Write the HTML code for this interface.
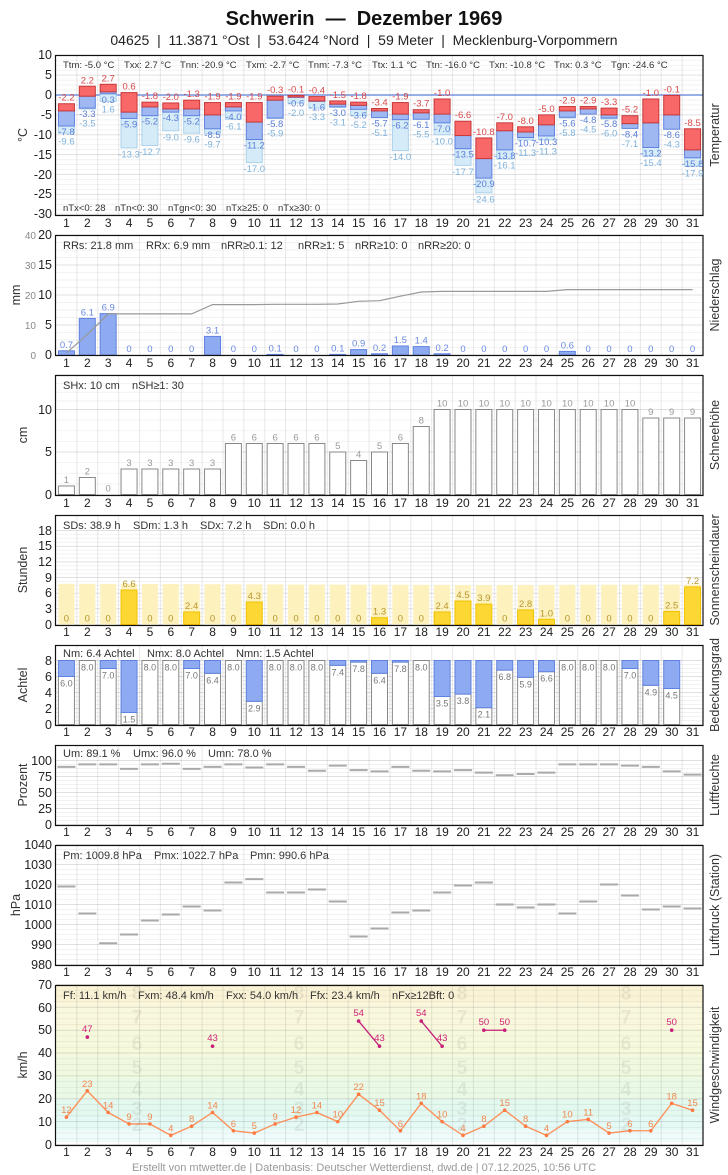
<!DOCTYPE html>
<html><head><meta charset="utf-8"><style>
body{margin:0;background:#fff;}
#w{position:relative;width:728px;height:1175px;font-family:"Liberation Sans",sans-serif;overflow:hidden}
svg{position:absolute;left:0;top:0}
.dr{position:absolute;left:56px;width:647px;display:flex;font-size:12px;color:#222;}
.dr span{flex:1;text-align:center}
text{font-family:"Liberation Sans",sans-serif}
.st{font-size:11px;fill:#333}
.ts{font-size:9.5px;fill:#333}
.ax{font-size:12.5px;fill:#222;text-anchor:end}
.ax2{font-size:10px;fill:#888;text-anchor:end}
.tl{font-size:12.5px;fill:#333;text-anchor:middle}
.lb text{font-size:9.5px;text-anchor:middle}
.pre{white-space:pre}
</style></head><body><div id="w">
<svg id="c" width="728" height="1175" xmlns="http://www.w3.org/2000/svg">
<g id="bg"></g>
<g id="fg"></g>
<text class="pre" x="364" y="25" text-anchor="middle" style="font-size:20px;font-weight:bold;fill:#111">Schwerin  —  Dezember 1969</text>
<text class="pre" x="364" y="45" text-anchor="middle" style="font-size:14px;fill:#222">04625  |  11.3871 °Ost  |  53.6424 °Nord  |  59 Meter  |  Mecklenburg-Vorpommern</text>

<g class="ax">
<text x="52" y="59">10</text><text x="52" y="79">5</text><text x="52" y="99">0</text><text x="52" y="119">-5</text><text x="52" y="139">-10</text><text x="52" y="159">-15</text><text x="52" y="179">-20</text><text x="52" y="198">-25</text><text x="52" y="218">-30</text>
<text x="52" y="239">20</text><text x="52" y="269">15</text><text x="52" y="299">10</text><text x="52" y="329">5</text><text x="52" y="359">0</text>
<text x="52" y="414">10</text><text x="52" y="456">5</text><text x="52" y="499">0</text>
<text x="52" y="535">18</text><text x="52" y="550">15</text><text x="52" y="566">12</text><text x="52" y="582">9</text><text x="52" y="597">6</text><text x="52" y="613">3</text><text x="52" y="629">0</text>
<text x="52" y="665">8</text><text x="52" y="681">6</text><text x="52" y="697">4</text><text x="52" y="713">2</text><text x="52" y="729">0</text>
<text x="52" y="765">100</text><text x="52" y="781">75</text><text x="52" y="797">50</text><text x="52" y="813">25</text><text x="52" y="829">0</text>
<text x="52" y="849">1040</text><text x="52" y="869">1030</text><text x="52" y="889">1020</text><text x="52" y="909">1010</text><text x="52" y="929">1000</text><text x="52" y="949">990</text><text x="52" y="969">980</text>
<text x="52" y="989">70</text><text x="52" y="1012">60</text><text x="52" y="1034">50</text><text x="52" y="1057">40</text><text x="52" y="1080">30</text><text x="52" y="1103">20</text><text x="52" y="1126">10</text><text x="52" y="1149">0</text>
</g>
<g class="ax2"><text x="36" y="239">40</text><text x="36" y="269">30</text><text x="36" y="299">20</text><text x="36" y="329">10</text><text x="36" y="359">0</text></g>

<g class="tl">
<text transform="translate(27,135) rotate(-90)">°C</text>
<text transform="translate(20,295) rotate(-90)">mm</text>
<text transform="translate(27,435) rotate(-90)">cm</text>
<text transform="translate(27,570) rotate(-90)">Stunden</text>
<text transform="translate(27,685) rotate(-90)">Achtel</text>
<text transform="translate(27,785) rotate(-90)">Prozent</text>
<text transform="translate(20,905) rotate(-90)">hPa</text>
<text transform="translate(27,1065) rotate(-90)">km/h</text>
<text transform="translate(719,135) rotate(-90)">Temperatur</text>
<text transform="translate(719,295) rotate(-90)">Niederschlag</text>
<text transform="translate(719,435) rotate(-90)">Schneehöhe</text>
<text transform="translate(719,570) rotate(-90)">Sonnenscheindauer</text>
<text transform="translate(719,685) rotate(-90)">Bedeckungsgrad</text>
<text transform="translate(719,785) rotate(-90)">Luftfeuchte</text>
<text transform="translate(719,905) rotate(-90)">Luftdruck (Station)</text>
<text transform="translate(719,1065) rotate(-90)">Windgeschwindigkeit</text>
</g>

<g id="bft" style="font-size:19px;font-weight:bold;fill:#000;opacity:0.06" text-anchor="middle"></g>

<g class="ts">
<text x="63" y="68">Ttm: -5.0 °C</text><text x="124" y="68">Txx: 2.7 °C</text><text x="180" y="68">Tnn: -20.9 °C</text><text x="246" y="68">Txm: -2.7 °C</text><text x="308" y="68">Tnm: -7.3 °C</text><text x="372" y="68">Ttx: 1.1 °C</text><text x="426" y="68">Ttn: -16.0 °C</text><text x="489" y="68">Txn: -10.8 °C</text><text x="554" y="68">Tnx: 0.3 °C</text><text x="611" y="68">Tgn: -24.6 °C</text>
<text x="63" y="211">nTx&lt;0: 28</text><text x="115" y="211">nTn&lt;0: 30</text><text x="168" y="211">nTgn&lt;0: 30</text><text x="226" y="211">nTx≥25: 0</text><text x="278" y="211">nTx≥30: 0</text>
</g>
<g class="st">
<text x="63" y="249">RRs: 21.8 mm</text><text x="146" y="249">RRx: 6.9 mm</text><text x="221" y="249">nRR≥0.1: 12</text><text x="298" y="249">nRR≥1: 5</text><text x="355" y="249">nRR≥10: 0</text><text x="418" y="249">nRR≥20: 0</text>
<text x="63" y="389">SHx: 10 cm</text><text x="132" y="389">nSH≥1: 30</text>
<text x="63" y="529">SDs: 38.9 h</text><text x="133" y="529">SDm: 1.3 h</text><text x="200" y="529">SDx: 7.2 h</text><text x="263" y="529">SDn: 0.0 h</text>
<text x="63" y="657">Nm: 6.4 Achtel</text><text x="147" y="657">Nmx: 8.0 Achtel</text><text x="236" y="657">Nmn: 1.5 Achtel</text>
<text x="63" y="757">Um: 89.1 %</text><text x="133" y="757">Umx: 96.0 %</text><text x="208" y="757">Umn: 78.0 %</text>
<text x="63" y="859">Pm: 1009.8 hPa</text><text x="154" y="859">Pmx: 1022.7 hPa</text><text x="250" y="859">Pmn: 990.6 hPa</text>
<text x="63" y="999">Ff: 11.1 km/h</text><text x="138" y="999">Fxm: 48.4 km/h</text><text x="226" y="999">Fxx: 54.0 km/h</text><text x="310" y="999">Ffx: 23.4 km/h</text><text x="392" y="999">nFx≥12Bft: 0</text>
</g>

<g class="lb" id="tR" fill="#d84848"><text>-2.2</text><text>2.2</text><text>2.7</text><text>0.6</text><text>-1.8</text><text>-2.0</text><text>-1.3</text><text>-1.9</text><text>-1.9</text><text>-1.9</text><text>-0.3</text><text>-0.1</text><text>-0.4</text><text>-1.5</text><text>-1.8</text><text>-3.4</text><text>-1.9</text><text>-3.7</text><text>-1.0</text><text>-6.6</text><text>-10.8</text><text>-7.0</text><text>-8.0</text><text>-5.0</text><text>-2.9</text><text>-2.9</text><text>-3.3</text><text>-5.2</text><text>-1.0</text><text>-0.1</text><text>-8.5</text></g>
<g class="lb" id="tB" fill="#5a7ed8"><text>-7.8</text><text>-3.3</text><text>0.3</text><text>-5.9</text><text>-5.2</text><text>-4.3</text><text>-5.2</text><text>-8.5</text><text>-4.0</text><text>-11.2</text><text>-5.8</text><text>-0.6</text><text>-1.6</text><text>-3.0</text><text>-3.6</text><text>-5.7</text><text>-6.2</text><text>-6.1</text><text>-7.0</text><text>-13.5</text><text>-20.9</text><text>-13.8</text><text>-10.7</text><text>-10.3</text><text>-5.6</text><text>-4.8</text><text>-5.8</text><text>-8.4</text><text>-13.2</text><text>-8.6</text><text>-15.8</text></g>
<g class="lb" id="tG" fill="#7fb2dc"><text>-9.6</text><text>-3.5</text><text>1.6</text><text>-13.3</text><text>-12.7</text><text>-9.0</text><text>-9.6</text><text>-9.7</text><text>-6.1</text><text>-17.0</text><text>-5.9</text><text>-2.0</text><text>-3.3</text><text>-3.1</text><text>-5.2</text><text>-5.1</text><text>-14.0</text><text>-5.5</text><text>-10.0</text><text>-17.7</text><text>-24.6</text><text>-16.1</text><text>-11.3</text><text>-11.3</text><text>-5.8</text><text>-4.5</text><text>-6.0</text><text>-7.1</text><text>-15.4</text><text>-4.3</text><text>-17.9</text></g>
<g class="lb" id="pL" fill="#6a8ae0"><text>0.7</text><text>6.1</text><text>6.9</text><text>0</text><text>0</text><text>0</text><text>0</text><text>3.1</text><text>0</text><text>0</text><text>0.1</text><text>0</text><text>0</text><text>0.1</text><text>0.9</text><text>0.2</text><text>1.5</text><text>1.4</text><text>0.2</text><text>0</text><text>0</text><text>0</text><text>0</text><text>0</text><text>0.6</text><text>0</text><text>0</text><text>0</text><text>0</text><text>0</text><text>0</text></g>
<g class="lb" id="sL" fill="#999"><text>1</text><text>2</text><text>0</text><text>3</text><text>3</text><text>3</text><text>3</text><text>3</text><text>6</text><text>6</text><text>6</text><text>6</text><text>6</text><text>5</text><text>4</text><text>5</text><text>6</text><text>8</text><text>10</text><text>10</text><text>10</text><text>10</text><text>10</text><text>10</text><text>10</text><text>10</text><text>10</text><text>10</text><text>9</text><text>9</text><text>9</text></g>
<g class="lb" id="uL" fill="#b8962a"><text>0</text><text>0</text><text>0</text><text>6.6</text><text>0</text><text>0</text><text>2.4</text><text>0</text><text>0</text><text>4.3</text><text>0</text><text>0</text><text>0</text><text>0</text><text>0</text><text>1.3</text><text>0</text><text>0</text><text>2.4</text><text>4.5</text><text>3.9</text><text>0</text><text>2.8</text><text>1.0</text><text>0</text><text>0</text><text>0</text><text>0</text><text>0</text><text>2.5</text><text>7.2</text></g>
<g class="lb" id="nL" fill="#777"><text>6.0</text><text>8.0</text><text>7.0</text><text>1.5</text><text>8.0</text><text>8.0</text><text>7.0</text><text>6.4</text><text>8.0</text><text>2.9</text><text>8.0</text><text>8.0</text><text>8.0</text><text>7.4</text><text>7.8</text><text>6.4</text><text>7.8</text><text>8.0</text><text>3.5</text><text>3.8</text><text>2.1</text><text>6.8</text><text>5.9</text><text>6.6</text><text>8.0</text><text>8.0</text><text>8.0</text><text>7.0</text><text>4.9</text><text>4.5</text></g>
<g class="lb" id="fL" fill="#f08850"><text>12</text><text>23</text><text>14</text><text>9</text><text>9</text><text>4</text><text>8</text><text>14</text><text>6</text><text>5</text><text>9</text><text>12</text><text>14</text><text>10</text><text>22</text><text>15</text><text>6</text><text>18</text><text>10</text><text>4</text><text>8</text><text>15</text><text>8</text><text>4</text><text>10</text><text>11</text><text>5</text><text>6</text><text>6</text><text>18</text><text>15</text></g>
<g class="lb" id="xL" fill="#d02078"><text>47</text><text>43</text><text>54</text><text>43</text><text>54</text><text>43</text><text>50</text><text>50</text><text>50</text></g>

<text x="364" y="1171" text-anchor="middle" style="font-size:11px;fill:#999">Erstellt von mtwetter.de | Datenbasis: Deutscher Wetterdienst, dwd.de | 07.12.2025, 10:56 UTC</text>
</svg>
<div class="dr" style="top:216px"><span>1</span><span>2</span><span>3</span><span>4</span><span>5</span><span>6</span><span>7</span><span>8</span><span>9</span><span>10</span><span>11</span><span>12</span><span>13</span><span>14</span><span>15</span><span>16</span><span>17</span><span>18</span><span>19</span><span>20</span><span>21</span><span>22</span><span>23</span><span>24</span><span>25</span><span>26</span><span>27</span><span>28</span><span>29</span><span>30</span><span>31</span></div>
<div class="dr" style="top:356px"><span>1</span><span>2</span><span>3</span><span>4</span><span>5</span><span>6</span><span>7</span><span>8</span><span>9</span><span>10</span><span>11</span><span>12</span><span>13</span><span>14</span><span>15</span><span>16</span><span>17</span><span>18</span><span>19</span><span>20</span><span>21</span><span>22</span><span>23</span><span>24</span><span>25</span><span>26</span><span>27</span><span>28</span><span>29</span><span>30</span><span>31</span></div>
<div class="dr" style="top:496px"><span>1</span><span>2</span><span>3</span><span>4</span><span>5</span><span>6</span><span>7</span><span>8</span><span>9</span><span>10</span><span>11</span><span>12</span><span>13</span><span>14</span><span>15</span><span>16</span><span>17</span><span>18</span><span>19</span><span>20</span><span>21</span><span>22</span><span>23</span><span>24</span><span>25</span><span>26</span><span>27</span><span>28</span><span>29</span><span>30</span><span>31</span></div>
<div class="dr" style="top:625px"><span>1</span><span>2</span><span>3</span><span>4</span><span>5</span><span>6</span><span>7</span><span>8</span><span>9</span><span>10</span><span>11</span><span>12</span><span>13</span><span>14</span><span>15</span><span>16</span><span>17</span><span>18</span><span>19</span><span>20</span><span>21</span><span>22</span><span>23</span><span>24</span><span>25</span><span>26</span><span>27</span><span>28</span><span>29</span><span>30</span><span>31</span></div>
<div class="dr" style="top:725px"><span>1</span><span>2</span><span>3</span><span>4</span><span>5</span><span>6</span><span>7</span><span>8</span><span>9</span><span>10</span><span>11</span><span>12</span><span>13</span><span>14</span><span>15</span><span>16</span><span>17</span><span>18</span><span>19</span><span>20</span><span>21</span><span>22</span><span>23</span><span>24</span><span>25</span><span>26</span><span>27</span><span>28</span><span>29</span><span>30</span><span>31</span></div>
<div class="dr" style="top:825px"><span>1</span><span>2</span><span>3</span><span>4</span><span>5</span><span>6</span><span>7</span><span>8</span><span>9</span><span>10</span><span>11</span><span>12</span><span>13</span><span>14</span><span>15</span><span>16</span><span>17</span><span>18</span><span>19</span><span>20</span><span>21</span><span>22</span><span>23</span><span>24</span><span>25</span><span>26</span><span>27</span><span>28</span><span>29</span><span>30</span><span>31</span></div>
<div class="dr" style="top:965px"><span>1</span><span>2</span><span>3</span><span>4</span><span>5</span><span>6</span><span>7</span><span>8</span><span>9</span><span>10</span><span>11</span><span>12</span><span>13</span><span>14</span><span>15</span><span>16</span><span>17</span><span>18</span><span>19</span><span>20</span><span>21</span><span>22</span><span>23</span><span>24</span><span>25</span><span>26</span><span>27</span><span>28</span><span>29</span><span>30</span><span>31</span></div>
<div class="dr" style="top:1145px"><span>1</span><span>2</span><span>3</span><span>4</span><span>5</span><span>6</span><span>7</span><span>8</span><span>9</span><span>10</span><span>11</span><span>12</span><span>13</span><span>14</span><span>15</span><span>16</span><span>17</span><span>18</span><span>19</span><span>20</span><span>21</span><span>22</span><span>23</span><span>24</span><span>25</span><span>26</span><span>27</span><span>28</span><span>29</span><span>30</span><span>31</span></div>
</div>
<script>
const NS='http://www.w3.org/2000/svg';
const BG=document.getElementById('bg'),FG=document.getElementById('fg');
function el(t,a,p){const e=document.createElementNS(NS,t);for(const k in a)e.setAttribute(k,a[k]);(p||FG).appendChild(e);return e;}
const W=647/31,X0=56,cx=i=>X0+(i+0.5)*W;
const bands=[[0,1,'#ffffff'],[1,6,'#f0fcfc'],[6,12,'#e5f9f5'],[12,20,'#e3f8ee'],[20,29,'#e9f9e5'],[29,39,'#f0f9e0'],[39,50,'#f6f9dc'],[50,62,'#f9f8dc'],[62,70,'#fbf3d6']];
const yw=v=>1144.5-2.2857*v;
bands.forEach(b=>el('rect',{x:56,y:yw(b[1]),width:647,height:yw(b[0])-yw(b[1]),fill:b[2]},BG));
const bg=document.getElementById('bft');
[[2,9],[3,16],[4,24.5],[5,34],[6,44.5],[7,56],[8,66.5]].forEach(d=>{[137,299,462,626].forEach(x=>{const t=el('text',{x:x,y:yw(d[1])+7},bg);t.textContent=d[0];});});
const panels=[[55,215,[55.3,75.1,95,114.9,134.8,154.6,174.5,194.4,214.3]],[235,355,[235,265,295,325,355]],[375,495,[375,409.5,452,494.5]],[515,625,[530.5,546.2,561.9,577.5,593.2,608.8,624.5]],[645,725,[660.5,676.5,692.5,708.5,724.5]],[745,825,[760.5,776.5,792.5,808.5,824.5]],[845,965,[844.5,864.5,884.5,904.5,924.5,944.5,964.5]],[985,1145,[984.5,1007.3,1030.2,1053,1075.9,1098.8,1121.6,1144.5]]];
panels.forEach(p=>{const t=p[2];
 for(let k=0;k<t.length-1;k++){const s=(t[k+1]-t[k])/4;for(let m=1;m<4;m++){const y=t[k]+s*m;if(y>p[0]&&y<p[1])el('line',{x1:56,x2:703,y1:y,y2:y,stroke:'#000','stroke-opacity':0.05},BG);}}
 t.forEach(y=>el('line',{x1:56,x2:703,y1:y,y2:y,stroke:'#000','stroke-opacity':0.12},BG));
 for(let k=1;k<31;k++){const x=X0+k*W;el('line',{x1:x,x2:x,y1:p[0],y2:p[1],stroke:'#000','stroke-opacity':0.09},BG);}
});
const Tx=[-2.2,2.2,2.7,0.6,-1.8,-2.0,-1.3,-1.9,-1.9,-1.9,-0.3,-0.1,-0.4,-1.5,-1.8,-3.4,-1.9,-3.7,-1.0,-6.6,-10.8,-7.0,-8.0,-5.0,-2.9,-2.9,-3.3,-5.2,-1.0,-0.1,-8.5];
const Tm=[-4,-0.3,0.8,-4.3,-3,-3.5,-3.5,-5,-3,-6.8,-1.3,-0.5,-1.5,-2.3,-2.6,-4,-4.8,-4.5,-4.8,-10.2,-16,-9,-9.3,-7.5,-4,-3.5,-5,-7.2,-7,-5,-13.8];
const Tn=[-7.8,-3.3,0.3,-5.9,-5.2,-4.3,-5.2,-8.5,-4.0,-11.2,-5.8,-0.6,-1.6,-3.0,-3.6,-5.7,-6.2,-6.1,-7.0,-13.5,-20.9,-13.8,-10.7,-10.3,-5.6,-4.8,-5.8,-8.4,-13.2,-8.6,-15.8];
const Tg=[-9.6,-3.5,-1.6,-13.3,-12.7,-9.0,-9.6,-9.7,-6.1,-17.0,-5.9,-2.0,-3.3,-3.1,-5.2,-5.1,-14.0,-5.5,-10.0,-17.7,-24.6,-16.1,-11.3,-11.3,-5.8,-4.5,-6.0,-7.1,-15.4,-4.3,-17.9];
const yt=v=>95-3.975*v;
el('line',{x1:56,x2:703,y1:95,y2:95,stroke:'#5a7ed8','stroke-width':1.2});
const ch=id=>document.getElementById(id).children;
for(let i=0;i<31;i++){const x=cx(i)-8;
 if(Tg[i]<Tn[i])el('rect',{x:x,y:yt(Tn[i]),width:16,height:yt(Tg[i])-yt(Tn[i]),fill:'#d6ebf8',stroke:'#abd2ec'});
 el('rect',{x:x,y:yt(Tm[i]),width:16,height:yt(Tn[i])-yt(Tm[i]),fill:'#a0b8f2',stroke:'#5f82e0'});
 el('rect',{x:x,y:yt(Tx[i]),width:16,height:yt(Tm[i])-yt(Tx[i]),fill:'#f86868',stroke:'#c83838'});
 const by=yt(Tn[i])+9;
 ch('tR')[i].setAttribute('x',cx(i));ch('tR')[i].setAttribute('y',yt(Tx[i])-3);
 ch('tB')[i].setAttribute('x',cx(i));ch('tB')[i].setAttribute('y',by);
 ch('tG')[i].setAttribute('x',cx(i));ch('tG')[i].setAttribute('y',Math.max(yt(Tg[i]),by)+9.5);
}
const P=[0.7,6.1,6.9,0,0,0,0,3.1,0,0,0.1,0,0,0.1,0.9,0.2,1.5,1.4,0.2,0,0,0,0,0,0.6,0,0,0,0,0,0];
let cum=0,pts=[];
for(let i=0;i<31;i++){const y=355-6*P[i];if(P[i]>0)el('rect',{x:cx(i)-8,y:y,width:16,height:355-y,fill:'#8eaaf0',stroke:'#5f82e0'});
 cum+=P[i];pts.push(cx(i)+','+(355-3*cum));
 ch('pL')[i].setAttribute('x',cx(i));ch('pL')[i].setAttribute('y',y-3);}
el('polyline',{points:pts.join(' '),fill:'none',stroke:'#999','stroke-width':1.2});
const S=[1,2,0,3,3,3,3,3,6,6,6,6,6,5,4,5,6,8,10,10,10,10,10,10,10,10,10,10,9,9,9];
for(let i=0;i<31;i++){const y=494.5-8.5*S[i];if(S[i]>0)el('rect',{x:cx(i)-8,y:y,width:16,height:494.5-y,fill:'#fff',stroke:'#888'});
 ch('sL')[i].setAttribute('x',cx(i));ch('sL')[i].setAttribute('y',y-3);}
const U=[0,0,0,6.6,0,0,2.4,0,0,4.3,0,0,0,0,0,1.3,0,0,2.4,4.5,3.9,0,2.8,1.0,0,0,0,0,0,2.5,7.2];
for(let i=0;i<31;i++){const dl=7.8-0.012*Math.min(i,20)+0.01*Math.max(0,i-20);
 el('rect',{x:cx(i)-8,y:624.5-5.22*dl,width:16,height:5.22*dl,fill:'#fdf1bd'});
 const y=624.5-5.22*U[i];if(U[i]>0)el('rect',{x:cx(i)-8,y:y,width:16,height:624.5-y,fill:'#fdd835',stroke:'#f2c200'});
 ch('uL')[i].setAttribute('x',cx(i));ch('uL')[i].setAttribute('y',y-3);}
const N=[6.0,8.0,7.0,1.5,8.0,8.0,7.0,6.4,8.0,2.9,8.0,8.0,8.0,7.4,7.8,6.4,7.8,8.0,3.5,3.8,2.1,6.8,5.9,6.6,8.0,8.0,8.0,7.0,4.9,4.5];
for(let i=0;i<30;i++){const y=724.5-8*N[i];
 el('rect',{x:cx(i)-8,y:y,width:16,height:724.5-y,fill:'#fff',stroke:'#888'});
 if(N[i]<8)el('rect',{x:cx(i)-8,y:660.5,width:16,height:y-660.5,fill:'#8eaaf0',stroke:'#5f82e0'});
 ch('nL')[i].setAttribute('x',cx(i));ch('nL')[i].setAttribute('y',y+10);ch('nL')[i].style.fontSize='9px';}
const H=[90,94,94,87,94,95,87,90,94,89,94,90,84,92,85,83,90,84,83,85,81,77,79,81,94,94,94,92,90,83,78];
H.forEach((v,i)=>{const y=824.5-0.64*v;el('line',{x1:cx(i)-9,x2:cx(i)+9,y1:y,y2:y,stroke:'#aaa','stroke-width':2});});
const PR=[1019,1005.5,990.6,995,1002,1005,1009,1007,1021,1022.7,1016,1016,1017.5,1011.5,994,998,1006,1007,1016,1019.5,1021,1010,1008.5,1010,1005.5,1011.5,1020,1014.5,1007.5,1009,1008];
PR.forEach((v,i)=>{const y=964.5-2*(v-980);el('line',{x1:cx(i)-9,x2:cx(i)+9,y1:y,y2:y,stroke:'#aaa','stroke-width':2});});
const F=[12,23.5,14,9,9,4,8,14,6,5,9,12,14,10,22,15,6,18,10,4,8,15,8,4,10,11,5,6,6,18,15];
const wp=F.map((v,i)=>cx(i)+','+yw(v));
el('polyline',{points:wp.join(' '),fill:'none',stroke:'#ff8c55','stroke-width':1.3});
F.forEach((v,i)=>{el('circle',{cx:cx(i),cy:yw(v),r:1.8,fill:'#ff7a40'});ch('fL')[i].setAttribute('x',cx(i));ch('fL')[i].setAttribute('y',yw(v)-4);});
const FX=[[1,47],[7,43],[14,54],[15,43],[17,54],[18,43],[20,50],[21,50],[29,50]];
[[2,3],[4,5],[6,7]].forEach(p=>el('line',{x1:cx(FX[p[0]][0]),y1:yw(FX[p[0]][1]),x2:cx(FX[p[1]][0]),y2:yw(FX[p[1]][1]),stroke:'#c8207a','stroke-width':1.3}));
FX.forEach((d,k)=>{el('circle',{cx:cx(d[0]),cy:yw(d[1]),r:1.8,fill:'#c8207a'});ch('xL')[k].setAttribute('x',cx(d[0]));ch('xL')[k].setAttribute('y',yw(d[1])-5);});
panels.forEach(p=>el('rect',{x:55.5,y:p[0]+0.5,width:647.5,height:p[1]-p[0],fill:'none',stroke:'#111','stroke-width':1.2}));
</script>
</body></html>
